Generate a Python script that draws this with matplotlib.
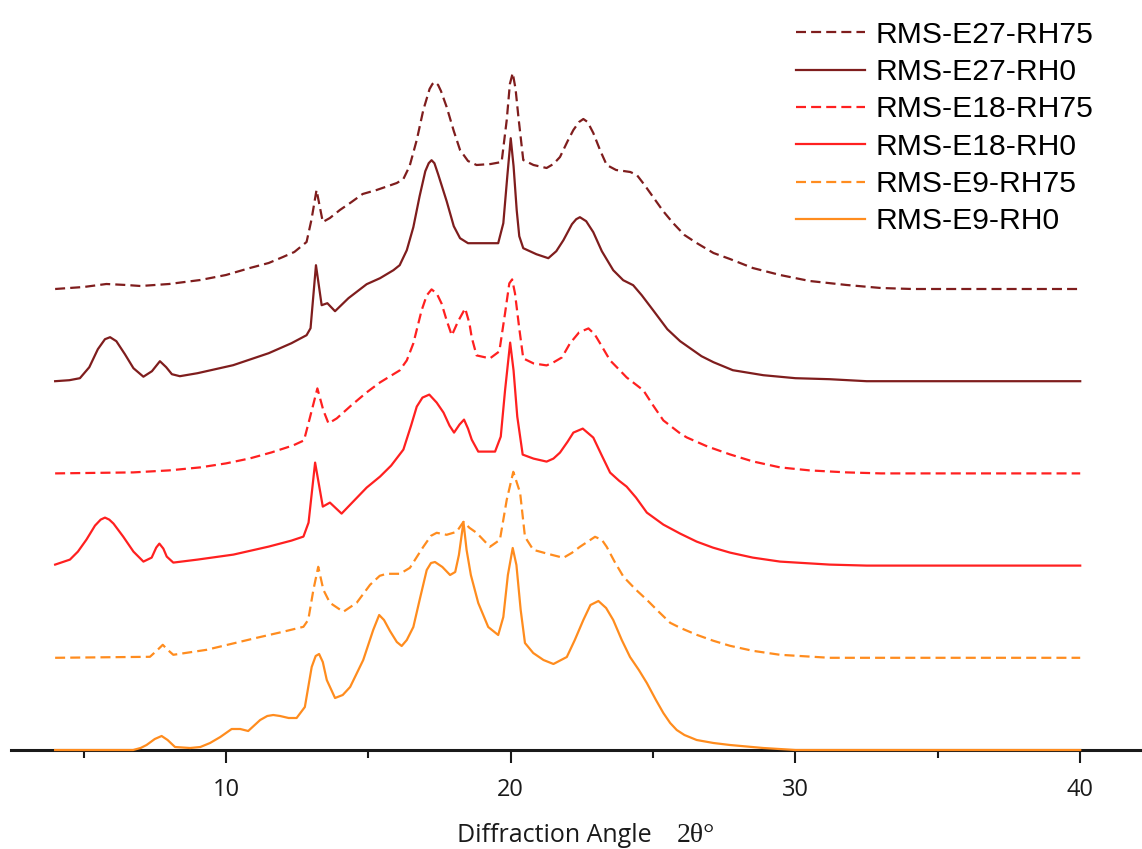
import matplotlib
matplotlib.use('Agg')
import matplotlib.pyplot as plt
from matplotlib.ticker import MultipleLocator

# diffraction angle 2theta (deg) and intensity (a.u.)
tt_e9_rh0 = [4.0, 6.74, 7.0, 7.21, 7.5, 7.74, 7.95, 8.21, 8.74, 9.1, 9.44, 9.8, 10.2, 10.5, 10.78,
             11.2, 11.45, 11.66, 11.9, 12.2, 12.48, 12.77, 13.01, 13.15, 13.27, 13.4, 13.54, 13.83,
             14.1, 14.36, 14.82, 15.17, 15.38, 15.55, 15.76, 16.0, 16.17, 16.35, 16.58, 16.8, 17.05,
             17.2, 17.34, 17.6, 17.87, 18.05, 18.18, 18.34, 18.45, 18.6, 18.86, 19.21, 19.56, 19.74,
             19.9, 20.07, 20.2, 20.35, 20.5, 20.79, 21.15, 21.5, 21.97, 22.25, 22.55, 22.8, 23.08,
             23.35, 23.6, 23.9, 24.19, 24.5, 24.78, 25.1, 25.36, 25.6, 25.83, 26.1, 26.53, 27.12,
             27.7, 28.87, 30.0, 40.0]
ii_e9_rh0 = [0, 0, 2, 5, 11, 14, 10, 3, 2, 3, 7, 13, 21, 21, 19,
             30, 34, 35, 34, 32, 32, 43, 83, 94, 96, 88, 70, 52,
             55, 63, 90, 120, 135, 130, 119, 108, 104, 110, 123, 150, 180,
             187, 188, 183, 175, 178, 195, 228, 200, 175, 147, 123, 115, 133,
             175, 202, 185, 140, 107, 97, 90, 86, 93, 110, 130, 145, 149,
             142, 130, 110, 93, 80, 67, 50, 37, 27, 20, 15, 10, 7,
             5, 2, 0, 0]

tt_e9_rh75 = [4.0, 7.33, 7.6, 7.78, 7.95, 8.15, 9.32, 10.2, 11.08, 12.0, 12.72, 12.89, 13.07, 13.24,
              13.42, 13.65, 14.12, 14.59, 15.06, 15.4, 15.64, 16.11, 16.46, 16.75, 16.93, 17.2, 17.4,
              17.75, 18.1, 18.34, 18.55, 18.8, 19.27, 19.62, 19.86, 20.09, 20.33, 20.5, 20.79, 21.3,
              21.85, 22.15, 22.43, 22.96, 23.2, 23.37, 23.65, 23.96, 24.4, 24.78, 25.2, 25.6, 25.95,
              26.53, 27.12, 27.7, 28.5, 29.46, 31.2, 40.0]
ii_e9_rh75 = [0, 1, 8, 13, 8, 3, 8, 14, 20, 26, 31, 38, 68, 91,
              68, 55, 46, 55, 73, 82, 84, 84, 90, 103, 111, 122, 125,
              123, 126, 136, 130, 125, 111, 118, 158, 186, 165, 121, 108, 104,
              100, 105, 111, 121, 118, 111, 96, 81, 68, 58, 46, 35, 30,
              23, 17, 12, 7, 3, 0, 0]

tt_e18_rh0 = [4.0, 4.52, 4.8, 5.1, 5.4, 5.6, 5.75, 5.9, 6.05, 6.39, 6.75, 7.1, 7.39, 7.55, 7.66,
              7.8, 7.92, 8.15, 9.0, 10.26, 11.5, 12.3, 12.72, 12.9, 13.13, 13.4, 13.65, 14.06, 14.5,
              14.94, 15.41, 15.8, 16.23, 16.5, 16.7, 16.9, 17.14, 17.4, 17.64, 17.85, 18.01, 18.2,
              18.36, 18.5, 18.63, 18.86, 19.45, 19.65, 19.8, 19.98, 20.1, 20.23, 20.42, 20.8, 21.26,
              21.5, 21.73, 22.0, 22.2, 22.53, 22.9, 23.2, 23.49, 23.8, 24.07, 24.4, 24.78, 25.36,
              25.95, 26.53, 27.1, 27.7, 28.5, 29.46, 31.2, 32.5, 40.0]
ii_e18_rh0 = [1, 6, 14, 26, 40, 46, 48, 46, 42, 29, 14, 4, 8, 18, 22,
              17, 9, 3, 6, 11, 19, 25, 29, 43, 103, 59, 63, 52, 65,
              78, 89, 100, 116, 140, 159, 168, 171, 163, 153, 140, 133, 141,
              146, 137, 126, 114, 114, 129, 175, 223, 195, 149, 111, 107, 104,
              107, 113, 124, 133, 137, 128, 110, 93, 85, 79, 68, 53, 41,
              32, 24, 18, 13, 8, 4, 1, 0, 0]

tt_e18_rh75 = [4.0, 6.74, 8.0, 9.09, 10.0, 10.84, 11.6, 12.36, 12.74, 12.95, 13.21, 13.42, 13.6,
               13.89, 14.4, 14.94, 15.41, 16.1, 16.35, 16.58, 16.87, 17.05, 17.22, 17.4, 17.57,
               17.75, 17.93, 18.15, 18.4, 18.55, 18.63, 18.8, 19.27, 19.6, 19.8, 19.95, 20.05, 20.15,
               20.3, 20.44, 20.8, 21.26, 21.5, 21.8, 22.08, 22.4, 22.73, 22.95, 23.14, 23.49, 23.8,
               24.07, 24.66, 25.0, 25.36, 25.95, 26.18, 26.9, 27.7, 28.5, 29.46, 30.5, 31.8, 33.0, 40.0]
ii_e18_rh75 = [0, 1, 3, 6, 10, 15, 21, 28, 33, 56, 85, 63, 50,
               55, 68, 81, 91, 103, 113, 130, 163, 178, 184, 180, 170,
               153, 138, 152, 165, 150, 136, 118, 115, 122, 160, 190, 194, 180,
               145, 115, 110, 108, 111, 116, 130, 141, 145, 139, 130, 113, 104,
               96, 83, 68, 53, 40, 36, 27, 19, 12, 6, 3, 1, 0, 0]

tt_e27_rh0 = [4.0, 4.5, 4.87, 5.2, 5.5, 5.75, 5.93, 6.15, 6.45, 6.75, 7.1, 7.4, 7.68, 7.9, 8.1,
              8.38, 9.0, 10.25, 11.5, 12.3, 12.83, 12.97, 13.16, 13.36, 13.56, 13.83, 14.3, 14.94,
              15.41, 15.88, 16.1, 16.35, 16.58, 16.8, 17.0, 17.12, 17.22, 17.32, 17.45, 17.75, 18.0,
              18.22, 18.5, 18.69, 19.56, 19.74, 19.88, 20.0, 20.1, 20.21, 20.3, 20.44, 20.9, 21.32,
              21.6, 21.85, 22.15, 22.3, 22.43, 22.65, 22.9, 23.2, 23.6, 23.95, 24.3, 24.6, 25.0,
              25.5, 25.95, 26.3, 26.7, 27.12, 27.8, 28.87, 30.0, 31.2, 32.5, 40.0]
ii_e27_rh0 = [0, 1, 3, 14, 32, 42, 44, 40, 27, 13, 4.5, 10, 20, 14, 7,
              5, 8, 16, 28, 38, 46, 53, 116, 76, 78, 70, 83, 97,
              103, 111, 116, 131, 154, 185, 210, 218, 221, 218, 207, 180, 155,
              143, 138, 138, 138, 158, 205, 243, 215, 171, 145, 133, 127, 123,
              130, 141, 157, 162, 164, 160, 149, 130, 111, 101, 96, 86, 71,
              52, 40, 33, 25, 19, 11, 6, 3, 2, 0, 0]

tt_e27_rh75 = [4.0, 5.0, 5.8, 6.5, 7.0, 8.0, 9.1, 10.0, 10.84, 11.5, 12.0, 12.4, 12.83, 13.0, 13.18,
               13.4, 13.65, 14.0, 14.36, 14.8, 15.29, 15.7, 16.0, 16.23, 16.45, 16.7, 16.93, 17.15,
               17.25, 17.34, 17.45, 17.55, 17.75, 18.0, 18.22, 18.5, 18.8, 19.3, 19.68, 19.86, 19.97,
               20.07, 20.17, 20.27, 20.44, 20.8, 21.26, 21.5, 21.73, 22.0, 22.2, 22.4, 22.55, 22.7,
               22.9, 23.15, 23.37, 23.7, 23.96, 24.2, 24.43, 24.7, 25.0, 25.35, 25.7, 26.1, 26.53,
               27.12, 27.7, 28.5, 29.46, 30.5, 31.8, 33.0, 34.1, 40.0]
ii_e27_rh75 = [0, 2, 5, 4, 3, 5, 9, 14, 21, 26, 32, 37, 47, 69, 99,
               67, 71, 79, 86, 95, 99, 103, 106, 110, 123, 149, 179, 200,
               205, 207, 204, 198, 182, 158, 139, 128, 124, 125, 127, 169, 205,
               216, 200, 172, 129, 124, 121, 125, 132, 148, 159, 167, 170, 167,
               156, 138, 124, 119, 118, 117, 114, 104, 92, 78, 66, 54, 46,
               36, 30, 21, 14, 8, 4, 1, 0, 0]

labels = ['RMS-E27-RH75', 'RMS-E27-RH0', 'RMS-E18-RH75', 'RMS-E18-RH0', 'RMS-E9-RH75', 'RMS-E9-RH0']
xs = [tt_e27_rh75, tt_e27_rh0, tt_e18_rh75, tt_e18_rh0, tt_e9_rh75, tt_e9_rh0]
ys = [ii_e27_rh75, ii_e27_rh0, ii_e18_rh75, ii_e18_rh0, ii_e9_rh75, ii_e9_rh0]

# stacking offsets and styles
offsets = [461, 368.8, 276.6, 184.4, 92.2, 0]
colors = ['#7f1d1d', '#7f1d1d', '#ff2020', '#ff2020', '#ff8c1e', '#ff8c1e']
dashed = [True, False, True, False, True, False]

W, H = 1142, 849
fig = plt.figure(figsize=(W / 100, H / 100), dpi=100)
ax = fig.add_axes([11 / W, 1 - 750 / H, 1 - 11 / W, 750 / H])

for x, y, off, c, d, lab in zip(xs, ys, offsets, colors, dashed, labels):
    yy = [v + off for v in y]
    line, = ax.plot(x, yy, color=c, lw=1.6, label=lab, zorder=3, clip_on=False,
                    solid_joinstyle='round')
    if d:
        line.set_dashes([4.5, 2.3])

ax.set_xlim(2.45, 42.17)
ax.set_ylim(0, 750)

for s in ['left', 'right', 'top']:
    ax.spines[s].set_visible(False)
ax.spines['bottom'].set_linewidth(2.2)
ax.spines['bottom'].set_color('#1a1a1a')
ax.set_yticks([])

ax.xaxis.set_major_locator(MultipleLocator(10))
ax.xaxis.set_minor_locator(MultipleLocator(5))
ax.tick_params(axis='x', which='major', length=9, width=1.5, color='#1a1a1a', pad=11,
               labelsize=17, labelcolor='#1a1a1a')
ax.tick_params(axis='x', which='minor', length=6, width=1.5, color='#1a1a1a')
for t in ax.get_xticklabels():
    t.set_fontfamily(['Open Sans', 'DejaVu Sans'])

fig.text(652 / W, 1 - 835 / H, 'Diffraction Angle', ha='right', va='center',
         fontsize=18, family=['Open Sans', 'DejaVu Sans'], color='#1a1a1a')
fig.text(677 / W, 1 - 835 / H, '2θ°', ha='left', va='center',
         fontsize=20, family=['Liberation Serif', 'DejaVu Serif'], color='#1a1a1a')

ax.legend(loc='upper left', bbox_to_anchor=(796 / W, 0.9756), bbox_transform=fig.transFigure,
          frameon=False, borderpad=0, borderaxespad=0, handlelength=2.3, handletextpad=0.35,
          labelspacing=0.31, prop={'family': ['Liberation Sans', 'DejaVu Sans'], 'size': 21.7})

fig.savefig('out.png', dpi=100)
